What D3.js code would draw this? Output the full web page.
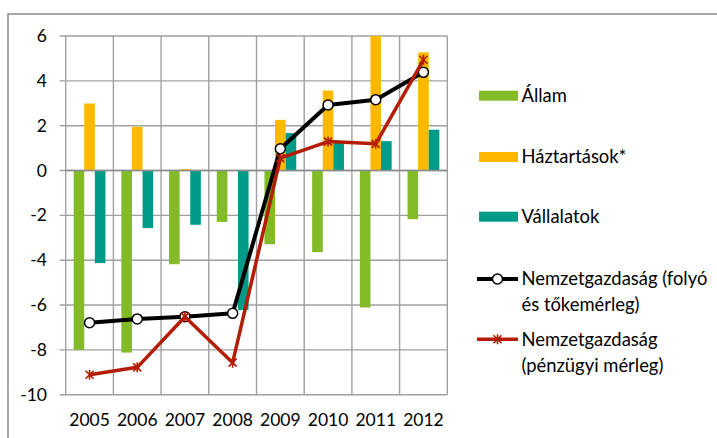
<!DOCTYPE html>
<html>
<head>
<meta charset="utf-8">
<script src="https://cdn.jsdelivr.net/npm/d3@7"></script>
<style>
  html, body { margin: 0; padding: 0; background: #fff; overflow: hidden; }
  svg { display: block; font-family: Lato, "Open Sans", sans-serif; }
</style>
</head>
<body>
<div id="chart"></div>
<script>
const years = ["2005", "2006", "2007", "2008", "2009", "2010", "2011", "2012"];
const allam = [-8.0, -8.12, -4.18, -2.29, -3.29, -3.64, -6.11, -2.17];
const haztartasok = [2.99, 1.95, 0.06, 0.0, 2.26, 3.57, 6.2, 5.27];
const vallalatok = [-4.13, -2.57, -2.42, -6.22, 1.67, 1.3, 1.31, 1.82];
const folyo = [-6.79, -6.62, -6.52, -6.37, 0.97, 2.92, 3.16, 4.38];
const penzugyi = [-9.11, -8.78, -6.52, -8.57, 0.55, 1.29, 1.19, 4.94];
const yTicks = [-10, -8, -6, -4, -2, 0, 2, 4, 6];

const barSeries = [
  { name: "Állam", values: allam, color: "#82ba28" },
  { name: "Háztartások*", values: haztartasok, color: "#fdb900" },
  { name: "Vállalatok", values: vallalatok, color: "#009b88" }
];
const lineSeries = [
  { name: ["Nemzetgazdaság (folyó", "és tőkemérleg)"], values: folyo, color: "#000000", marker: "circle" },
  { name: ["Nemzetgazdaság", "(pénzügyi mérleg)"], values: penzugyi, color: "#b31d06", marker: "star" }
];

const width = 717, height = 438;
const plot = { left: 65.7, right: 447.3, top: 36, bottom: 394.7 };
const gridColor = "#a0a0a0";

const svg = d3.select("#chart").append("svg")
  .attr("width", width)
  .attr("height", height);

// outer frame (cut off on the right and bottom)
svg.append("rect")
  .attr("x", 8).attr("y", 14)
  .attr("width", 760).attr("height", 480)
  .attr("fill", "none")
  .attr("stroke", "#8a8a8a")
  .attr("stroke-width", 1.5);

const x = d3.scaleBand().domain(years).range([plot.left, plot.right]);
const bw = x.bandwidth();
const groupW = bw * 3 / 4.5;
const x1 = d3.scaleBand().domain(barSeries.map(s => s.name))
  .range([(bw - groupW) / 2, (bw + groupW) / 2]);
const y = d3.scaleLinear().domain([-10, 6]).range([plot.bottom, plot.top]);

svg.append("clipPath").attr("id", "plotclip")
  .append("rect")
  .attr("x", plot.left).attr("y", plot.top)
  .attr("width", plot.right - plot.left).attr("height", plot.bottom - plot.top);

// gridlines
const grid = svg.append("g").attr("stroke", gridColor).attr("stroke-width", 1.4);
grid.selectAll("line.h")
  .data(yTicks)
  .join("line")
  .attr("x1", plot.left - 6).attr("x2", plot.right)
  .attr("y1", d => y(d)).attr("y2", d => y(d));
grid.selectAll("line.v")
  .data(years.map(d => x(d)).concat([plot.right]))
  .join("line")
  .attr("x1", d => d).attr("x2", d => d)
  .attr("y1", plot.top).attr("y2", plot.bottom);

// y tick labels
svg.append("g")
  .selectAll("text")
  .data(yTicks)
  .join("text")
  .attr("x", 47)
  .attr("y", d => y(d))
  .attr("dy", "0.35em")
  .attr("text-anchor", "end")
  .style("font-size", "17.5px")
  .style("fill", "#000")
  .text(d => d);

// x labels
svg.append("g")
  .selectAll("text")
  .data(years)
  .join("text")
  .attr("x", d => x(d) + bw / 2)
  .attr("y", 426)
  .attr("text-anchor", "middle")
  .style("font-size", "17.5px")
  .style("fill", "#000")
  .text(d => d);

// bars
const bars = svg.append("g").attr("clip-path", "url(#plotclip)");
barSeries.forEach(s => {
  bars.append("g")
    .selectAll("rect")
    .data(s.values.map((v, i) => ({ year: years[i], v })))
    .join("rect")
    .attr("x", d => x(d.year) + x1(s.name))
    .attr("width", x1.bandwidth())
    .attr("y", d => y(Math.max(0, d.v)))
    .attr("height", d => Math.abs(y(d.v) - y(0)))
    .attr("fill", s.color);
});

// zero axis on top of bars
svg.append("line")
  .attr("x1", plot.left).attr("x2", plot.right)
  .attr("y1", y(0)).attr("y2", y(0))
  .attr("stroke", "#8c8c8c").attr("stroke-width", 1.5);

function drawMarker(g, type, color) {
  if (type === "circle") {
    g.append("circle").attr("r", 5)
      .attr("fill", "#fff").attr("stroke", color).attr("stroke-width", 1.5);
  } else {
    g.append("path")
      .attr("d", "M-4,-4L4,4M-4,4L4,-4M0,-5L0,5")
      .attr("stroke", color).attr("stroke-width", 1.6).attr("fill", "none");
  }
}

// lines
lineSeries.forEach(s => {
  const pts = s.values.map((v, i) => ({ year: years[i], v }));
  const line = d3.line().x(d => x(d.year) + bw / 2).y(d => y(d.v));
  svg.append("path")
    .datum(pts)
    .attr("d", line)
    .attr("fill", "none")
    .attr("stroke", s.color)
    .attr("stroke-width", s.marker === "circle" ? 4 : 3.5)
    .attr("stroke-linejoin", "round");
  svg.append("g")
    .selectAll("g")
    .data(pts)
    .join("g")
    .attr("transform", d => `translate(${x(d.year) + bw / 2},${y(d.v)})`)
    .each(function () { drawMarker(d3.select(this), s.marker, s.color); });
});

// legend
const legend = svg.append("g").style("font-size", "18.4px").style("fill", "#000");
const barRowsY = [95.7, 157, 216.7];
barSeries.forEach((s, i) => {
  legend.append("rect")
    .attr("x", 479).attr("y", barRowsY[i] - 5)
    .attr("width", 39).attr("height", 10)
    .attr("fill", s.color);
  legend.append("text")
    .attr("x", 521.5).attr("y", barRowsY[i])
    .attr("dy", "0.35em")
    .text(s.name);
});
const lineRowsY = [279, 339.3];
lineSeries.forEach((s, i) => {
  const ly = lineRowsY[i];
  legend.append("line")
    .attr("x1", 477).attr("x2", 518)
    .attr("y1", ly).attr("y2", ly)
    .attr("stroke", s.color)
    .attr("stroke-width", s.marker === "circle" ? 4 : 3.5);
  drawMarker(legend.append("g").attr("transform", `translate(497.5,${ly})`), s.marker, s.color);
  s.name.forEach((t, j) => {
    legend.append("text")
      .attr("x", 521.5).attr("y", ly + j * 26)
      .attr("dy", "0.35em")
      .text(t);
  });
});
</script>
</body>
</html>
